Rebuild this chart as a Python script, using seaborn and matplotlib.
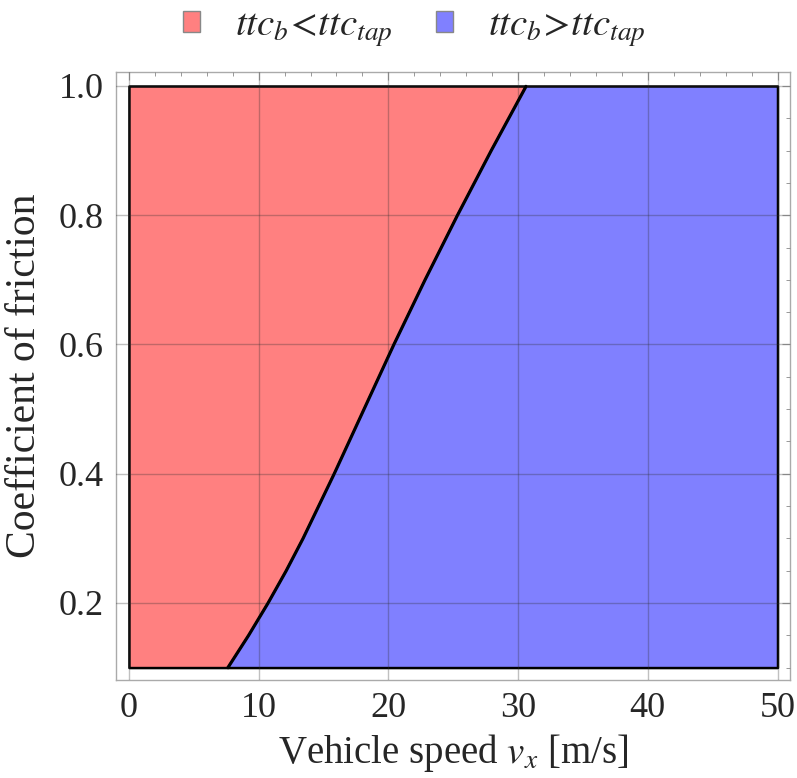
import numpy as np
import pandas as pd
import matplotlib
matplotlib.use("Agg")
import matplotlib.pyplot as plt
import seaborn as sns
from matplotlib.patches import Patch
from matplotlib.ticker import MultipleLocator

# boundary where ttc_b == ttc_tap
mu_values = [0.1, 0.15, 0.2, 0.25, 0.3, 0.4, 0.5, 0.6, 0.7, 0.8, 0.9, 1.0]
vx_boundary = [7.6, 9.2, 10.7, 12.1, 13.4, 15.8, 18.1, 20.4, 22.8, 25.3, 27.9, 30.6]
vx_range = [0, 50]
legend_labels = [r"$ttc_b\!<\!ttc_{tap}$", r"$ttc_b\!>\!ttc_{tap}$"]

df = pd.DataFrame({"mu": mu_values, "vx": vx_boundary})

sns.set_style("white")
plt.rcParams["font.family"] = ["Liberation Serif", "DejaVu Serif"]
plt.rcParams["mathtext.fontset"] = "stix"

red = "#ff8080"
blue = "#8080ff"

fig = plt.figure(figsize=(7.97, 7.78), dpi=100)
ax = fig.add_axes([0.1455, 0.126, 0.8455, 0.7815])

ax.fill_betweenx(df["mu"], vx_range[0], df["vx"], color=red, edgecolor="black", linewidth=1.8, zorder=1)
ax.fill_betweenx(df["mu"], df["vx"], vx_range[1], color=blue, edgecolor="black", linewidth=1.8, zorder=1)
sns.lineplot(data=df, x="vx", y="mu", color="black", linewidth=1.8, ax=ax, zorder=3, sort=False)

ax.set_xlim(-1.0, 50.95)
ax.set_ylim(0.0808, 1.0217)
ax.xaxis.set_major_locator(MultipleLocator(10))
ax.xaxis.set_minor_locator(MultipleLocator(2))
ax.yaxis.set_major_locator(MultipleLocator(0.2))
ax.yaxis.set_minor_locator(MultipleLocator(0.05))
ax.set_yticks([0.2, 0.4, 0.6, 0.8, 1.0])
ax.set_yticklabels(["0.2", "0.4", "0.6", "0.8", "1.0"])

ax.grid(True, which="major", color="#303030", alpha=0.3, linewidth=1.0)
ax.set_axisbelow(False)

ax.tick_params(which="both", direction="in", top=True, right=True, color="#888888", labelsize=26, pad=9)
ax.tick_params(which="major", length=6, width=0.8)
ax.tick_params(which="minor", length=3, width=0.6)
for s in ax.spines.values():
    s.set_color("#aaaaaa")
    s.set_linewidth(1.0)

ax.set_xlabel(r"Vehicle speed $v_x$ [m/s]", fontsize=28, labelpad=5)
ax.set_ylabel("Coefficient of friction", fontsize=30, labelpad=10)

handles = [Patch(facecolor=red, edgecolor="#888888"), Patch(facecolor=blue, edgecolor="#888888")]
fig.legend(handles, legend_labels, loc="upper center", bbox_to_anchor=(0.52, 1.035), ncol=2,
           frameon=False, fontsize=28, handlelength=0.45, handleheight=0.45, columnspacing=1.1, handletextpad=0.9)

fig.savefig("out.png", dpi=100)
